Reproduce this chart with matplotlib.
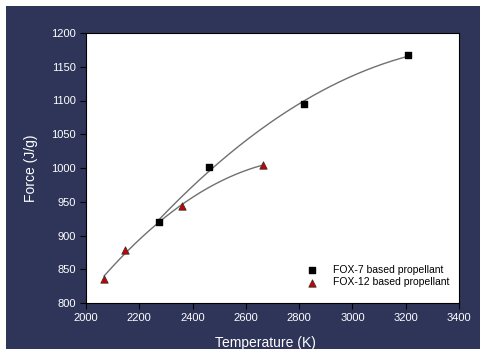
import matplotlib
matplotlib.use("Agg")
from matplotlib import pyplot as plt
from matplotlib.patches import Rectangle
import numpy as np

plt.rcParams['font.family'] = ['Liberation Sans', 'DejaVu Sans']

fox7_temp = [2275, 2460, 2820, 3210]
fox7_force = [920, 1002, 1095, 1167]
fox12_temp = [2068, 2145, 2360, 2665]
fox12_force = [836, 879, 943, 1005]

x_ticks = [2000, 2200, 2400, 2600, 2800, 3000, 3200, 3400]
y_ticks = [800, 850, 900, 950, 1000, 1050, 1100, 1150, 1200]

navy = '#2e3559'

fig = plt.figure(figsize=(4.81, 3.49), dpi=100)
fig.patch.set_facecolor('white')
# dark panel behind the plot, small white margin top/left
fig.patches.append(Rectangle((6 / 481, 0), 1, 1 - 6 / 349, transform=fig.transFigure,
                             facecolor=navy, edgecolor='none', zorder=-1))

ax = fig.add_axes([86 / 481, 1 - 303 / 349, 373 / 481, 270 / 349])
ax.set_facecolor('white')

# trend lines (2nd order fits)
for t, f in [(fox7_temp, fox7_force), (fox12_temp, fox12_force)]:
    c = np.polyfit(t, f, 2)
    xs = np.linspace(min(t), max(t), 200)
    ax.plot(xs, np.polyval(c, xs), color='#707070', lw=1.0, zorder=2)

ax.scatter(fox7_temp, fox7_force, marker='s', s=22, color='black', zorder=3,
           label='FOX-7 based propellant')
ax.scatter(fox12_temp, fox12_force, marker='^', s=28, color='#cc0000',
           edgecolors='#333333', linewidths=0.6, zorder=3, label='FOX-12 based propellant')

ax.set_xlim(2000, 3400)
ax.set_ylim(800, 1200)
ax.set_xticks(x_ticks)
ax.set_yticks(y_ticks)
ax.tick_params(colors='black', labelcolor='white', labelsize=8, length=4, width=0.8, direction='out')
for s in ax.spines.values():
    s.set_color('black')
    s.set_linewidth(0.8)

ax.set_ylabel('Force (J/g)', color='white', fontsize=10, labelpad=9)
fig.text(265 / 481, 1 - 343 / 349, 'Temperature (K)', color='white', fontsize=10,
         ha='center', va='center')

ax.legend(loc='lower right', bbox_to_anchor=(0.99, 0.035), frameon=False, fontsize=7.5,
          handletextpad=1.0, labelspacing=0.25, borderaxespad=0.2)

fig.savefig('out.png', dpi=100, facecolor=fig.get_facecolor())
